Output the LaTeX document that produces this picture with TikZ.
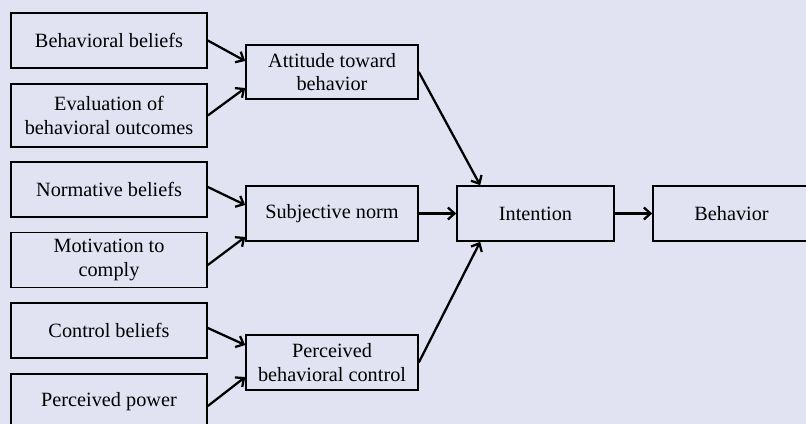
\documentclass[tikz,border=0pt]{standalone}
\usepackage{fontspec}
\setmainfont{Liberation Serif}
\usetikzlibrary{arrows.meta}
\definecolor{bglav}{RGB}{225,227,242}

\begin{document}
\begin{tikzpicture}[x=0.75pt,y=-0.75pt,
  box/.style={draw=black, line width=1.2pt, align=center, inner sep=2pt,
    font=\fontsize{15.2}{17.5}\selectfont, minimum height=41.25pt},
  srcbox/.style={box, minimum width=147pt},
  midbox/.style={box, minimum width=129pt},
  endbox/.style={box, minimum width=117.75pt},
  link/.style={line width=1.7pt, -{Straight Barb[length=5pt, width=9pt]}}]
\useasboundingbox (0,0) rectangle (806,424);
\clip (0,0) rectangle (806,424);
\fill[bglav] (0,0) rectangle (806,424);
\node[srcbox] (bb) at (109,40.5) {Behavioral beliefs};
\node[srcbox, minimum height=47.25pt] (eo) at (109,115.5) {Evaluation of\\behavioral outcomes};
\node[srcbox] (nb) at (109,189.5) {Normative beliefs};
\node[srcbox] (mc) at (109,260) {Motivation to\\comply};
\node[srcbox] (cb) at (109,330.5) {Control beliefs};
\node[srcbox] (pp) at (109,401.5) {Perceived power};
\node[midbox, minimum height=40.5pt] (att) at (332,72) {Attitude toward\\behavior};
\node[midbox] (sn) at (332,213.5) {Subjective norm};
\node[midbox] (pbc) at (332,362.5) {Perceived\\behavioral control};
\node[endbox] (int) at (535.5,213.5) {Intention};
\node[endbox] (beh) at (731.5,213.5) {Behavior};
\draw[link] (bb.east) -- ([yshift=8.25pt]att.west);
\draw[link] (eo.east) -- ([yshift=-12pt]att.west);
\draw[link] ([yshift=1.9pt]nb.east) -- ([yshift=6.4pt]sn.west);
\draw[link] ([yshift=-3.75pt]mc.east) -- ([yshift=-17.6pt]sn.west);
\draw[link] ([yshift=1.9pt]cb.east) -- ([yshift=13.1pt]pbc.west);
\draw[link] ([yshift=-3.4pt]pp.east) -- ([yshift=-10.9pt]pbc.west);
\draw[link] (att.east) -- ([xshift=18pt]int.north west);
\draw[link] (sn.east) -- (int.west);
\draw[link] (pbc.east) -- ([xshift=18pt]int.south west);
\draw[link] (int.east) -- (beh.west);
\end{tikzpicture}
\end{document}
